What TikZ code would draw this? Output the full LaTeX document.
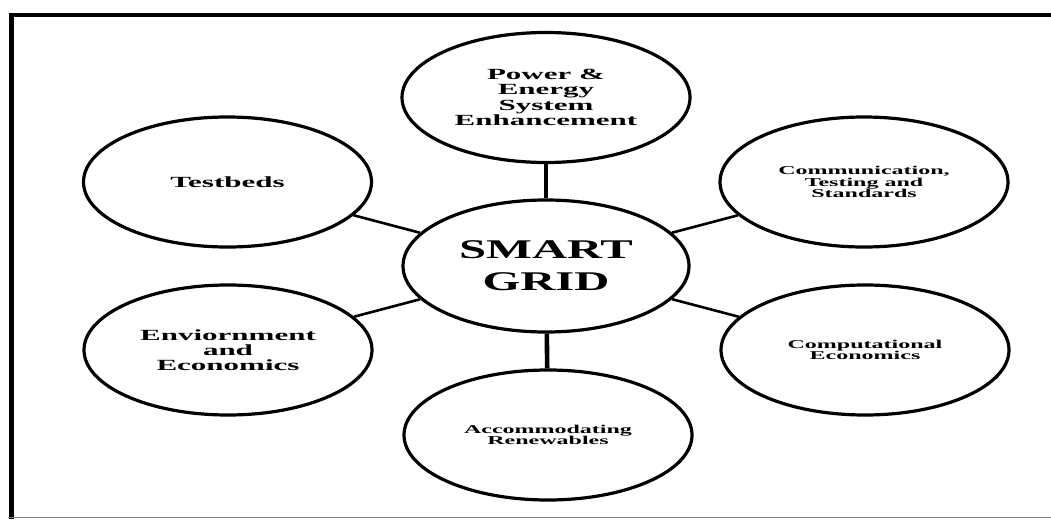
\documentclass[tikz,border=0pt]{standalone}
\usepackage{fontspec}
\usetikzlibrary{shapes.geometric}
\newfontfamily\lblfont{Liberation Serif}[FakeStretch=2.0]
\newfontfamily\bigfont{Liberation Serif}[FakeStretch=1.8]
\tikzset{
  bubble/.style={ellipse, draw=black, line width=3.2pt, inner sep=0pt,
    minimum width=288pt, minimum height=130pt, align=center, text=black},
  medtext/.style={font=\lblfont\bfseries\fontsize{15.5}{15.3}\selectfont},
  smalltext/.style={font=\lblfont\bfseries\fontsize{12}{11.7}\selectfont},
  hubtext/.style={font=\bigfont\bfseries\fontsize{27}{32}\selectfont},
  spoke/.style={draw=black, line width=2.6pt},
  vspoke/.style={draw=black, line width=4.6pt},
}
\begin{document}
\begin{tikzpicture}[x=1pt,y=-1pt]
\useasboundingbox (0,0) rectangle (1051,519);
% frame
\coordinate (ftl) at (11.5,15);
\coordinate (ftr) at (1051,15);
\coordinate (fbl) at (11.5,519);
\coordinate (bbl) at (8,517.5);
\coordinate (bbr) at (1051,517.5);
\draw[line width=4pt] (ftl) -- (ftr);
\draw[line width=5.5pt] (11.5,13) -- (fbl);
\draw[line width=1.5pt, draw=black!50] (bbl) -- (bbr);
% nodes
\node[bubble, minimum width=286pt, minimum height=132pt, hubtext] (hub) at (546,266) {SMART\\GRID};
\node[bubble, medtext] (pow) at (546,97.5) {Power \&\\Energy\\System\\Enhancement};
\node[bubble, medtext] (tb) at (227.5,182) {Testbeds};
\node[bubble, smalltext] (com) at (864,182) {Communication,\\Testing and\\Standards};
\node[bubble, medtext] (env) at (228,350) {Enviornment\\and\\Economics};
\node[bubble, smalltext] (cmp) at (865,350) {Computational\\Economics};
\node[bubble, smalltext] (acc) at (548,435) {Accommodating\\Renewables};
% connectors
\draw[vspoke] (pow) -- (hub);
\draw[vspoke] (hub) -- (acc);
\draw[spoke] (tb) -- (hub);
\draw[spoke] (env) -- (hub);
\draw[spoke] (com) -- (hub);
\draw[spoke] (cmp) -- (hub);
\end{tikzpicture}
\end{document}
